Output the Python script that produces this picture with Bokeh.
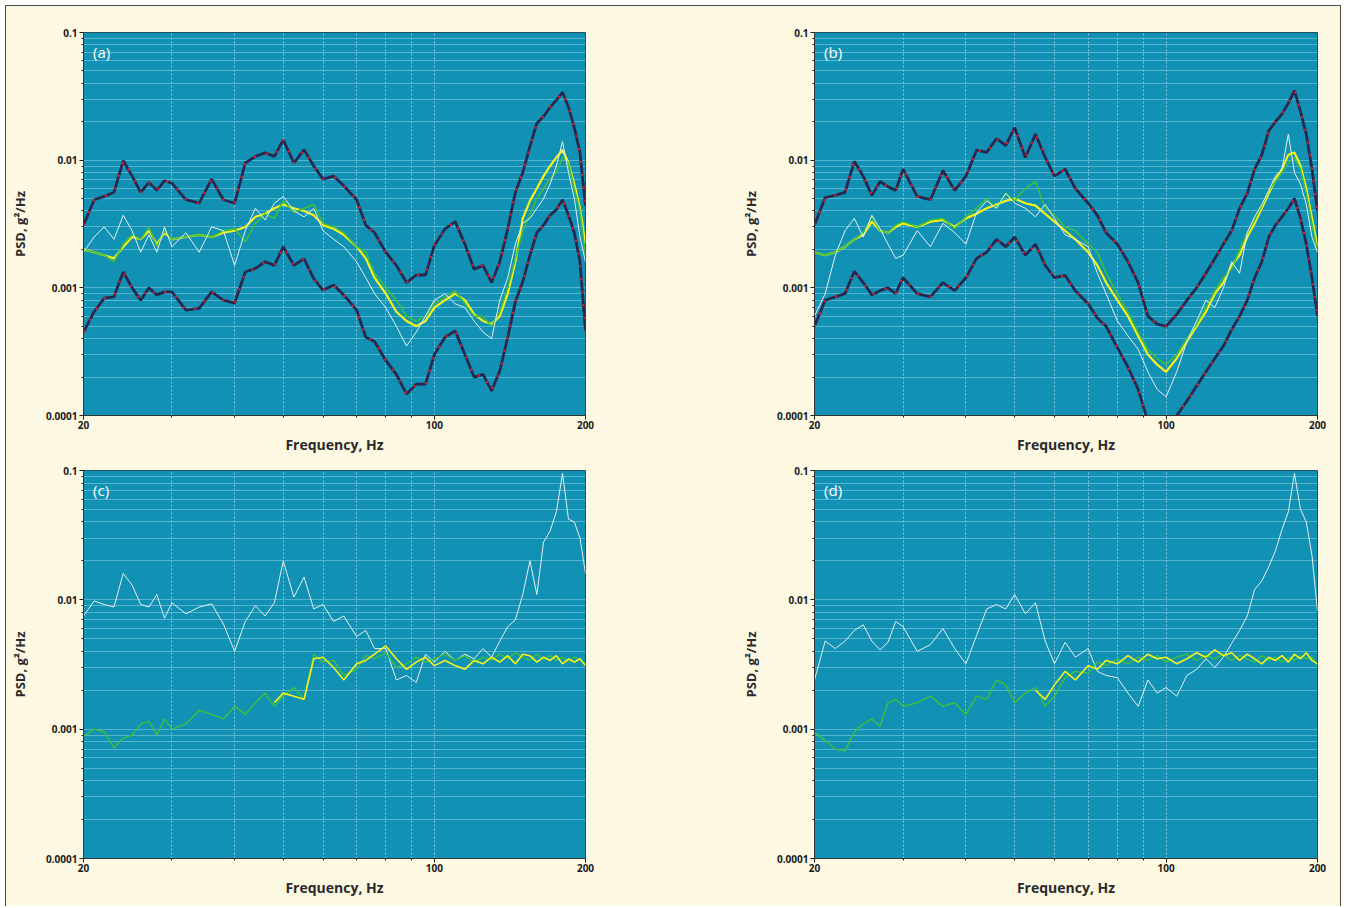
from bokeh.plotting import figure
from bokeh.layouts import row, column
from bokeh.models import Range1d, FixedTicker, Label
from bokeh.embed import file_html
from bokeh.resources import INLINE

# ---------------- data ----------------
freq = [20, 21, 22, 23, 24, 25, 26, 27, 28, 29, 30,
        32, 34, 36, 38, 40,
        42, 44, 46, 48, 50,
        52.5, 55, 57.5, 60,
        63, 66, 70, 73, 76, 80,
        84, 88, 92, 96, 100,
        105, 110, 115, 120, 125, 130, 135, 140, 145, 150,
        155, 160, 165, 170, 175, 180, 185, 190, 195, 200]

# panel (a)
a_upper = [0.0031, 0.0049, 0.0052, 0.0056, 0.0099, 0.0075, 0.0056, 0.0067, 0.0058, 0.0069, 0.0066,
           0.0049, 0.0046, 0.0071, 0.0049, 0.0046,
           0.0095, 0.0107, 0.0114, 0.0107, 0.0144,
           0.0095, 0.0121, 0.009, 0.0071,
           0.0075, 0.0063, 0.0049, 0.0031, 0.0027, 0.0019,
           0.0015, 0.0011, 0.00126, 0.00126, 0.00215,
           0.0029, 0.0033, 0.0022, 0.0014, 0.0015, 0.0011, 0.0016, 0.0029, 0.0056, 0.008,
           0.0128, 0.0195, 0.022, 0.026, 0.0295, 0.034, 0.026, 0.018, 0.0114, 0.0044]
a_lower = [0.00045, 0.00065, 0.00083, 0.00085, 0.00133, 0.001, 0.0008, 0.001, 0.00088, 0.00093, 0.00093,
           0.00067, 0.00069, 0.00093, 0.0008, 0.00076,
           0.00133, 0.00142, 0.0016, 0.0015, 0.0021,
           0.0015, 0.00169, 0.00118, 0.00096,
           0.00105, 0.00088, 0.00067, 0.00041, 0.00038, 0.00027,
           0.00021, 0.000147, 0.000176, 0.000176, 0.0003,
           0.00041, 0.00046, 0.0003, 0.0002, 0.00021, 0.000156, 0.000224, 0.00041, 0.00078, 0.00112,
           0.0018, 0.0027, 0.0031, 0.0037, 0.0041, 0.0049, 0.0037, 0.0027, 0.0016, 0.00046]
a_yellow = [0.002, 0.0019, 0.0018, 0.0017, 0.0021, 0.0025, 0.0024, 0.0028, 0.0022, 0.0027, 0.0024,
            0.0025, 0.0026, 0.0025, 0.0027, 0.0028,
            0.003, 0.0036, 0.0038, 0.0042, 0.0045,
            0.0042, 0.004, 0.0037, 0.0031,
            0.0029, 0.0026, 0.0021, 0.0017, 0.0012, 0.0009,
            0.00065, 0.00055, 0.0005, 0.00055, 0.0007,
            0.0008, 0.0009, 0.0008, 0.00062, 0.00055, 0.00052, 0.0006, 0.0009, 0.0016, 0.0035,
            0.0048, 0.006, 0.0075, 0.009, 0.0105, 0.012, 0.0095, 0.0065, 0.0042, 0.0022]
a_green = [0.002, 0.0019, 0.0018, 0.0016, 0.0022, 0.0026, 0.0024, 0.003, 0.0021, 0.0028, 0.0024,
           0.0025, 0.0026, 0.0025, 0.0028, 0.0029,
           0.0023, 0.0032, 0.0038, 0.0035, 0.0048,
           0.0039, 0.0042, 0.0045, 0.0032,
           0.003, 0.0027, 0.0021, 0.0019, 0.0013, 0.001,
           0.0008, 0.0006, 0.00055, 0.0006, 0.00075,
           0.00085, 0.00095, 0.00075, 0.0006, 0.0006, 0.0005, 0.00065, 0.001, 0.0017, 0.0028,
           0.0038, 0.005, 0.006, 0.0072, 0.008, 0.0105, 0.0095, 0.006, 0.004, 0.0018]
a_white = [0.0019, 0.0025, 0.003, 0.0024, 0.0037, 0.0028, 0.0019, 0.0026, 0.0019, 0.003, 0.0021,
           0.0027, 0.0019, 0.003, 0.0028, 0.0015,
           0.0028, 0.0042, 0.0034, 0.0046, 0.0052,
           0.004, 0.0036, 0.0042, 0.0028,
           0.0024, 0.0021, 0.0016, 0.0012, 0.0009, 0.0007,
           0.0005, 0.00035, 0.00045, 0.0006, 0.0008,
           0.0009, 0.00075, 0.0007, 0.00055, 0.00045, 0.0004, 0.0008, 0.0012, 0.0022, 0.0032,
           0.0035, 0.0042, 0.005, 0.0065, 0.009, 0.014, 0.008, 0.005, 0.0025, 0.0016]

# panel (b)
b_upper = [0.0031, 0.0051, 0.0053, 0.0056, 0.0098, 0.0075, 0.0053, 0.0068, 0.0062, 0.0058, 0.0085,
           0.0052, 0.0049, 0.0083, 0.0058, 0.0075,
           0.012, 0.0115, 0.0148, 0.013, 0.018,
           0.0105, 0.016, 0.0105, 0.0075,
           0.0085, 0.006, 0.0046, 0.0037, 0.0027, 0.0022,
           0.0016, 0.0011, 0.0006, 0.00052, 0.0005,
           0.00062, 0.0008, 0.001, 0.0013, 0.0017, 0.0022, 0.0028, 0.0042, 0.0055, 0.0085,
           0.011, 0.017, 0.02, 0.023, 0.028, 0.035, 0.024, 0.016, 0.0085, 0.004]
b_lower = [0.0005, 0.0008, 0.00085, 0.0009, 0.00135, 0.0011, 0.00088, 0.00095, 0.001, 0.0009, 0.0012,
           0.0009, 0.00085, 0.0011, 0.00095, 0.0012,
           0.0017, 0.0019, 0.0024, 0.0021, 0.0025,
           0.0018, 0.0022, 0.0015, 0.0012,
           0.00125, 0.00095, 0.00075, 0.00058, 0.0005, 0.00034,
           0.00024, 0.00016, 0.00009, 0.00008, 0.00008,
           0.0001, 0.00013, 0.00017, 0.00022, 0.00028, 0.00035, 0.00047, 0.0006, 0.0008, 0.0012,
           0.0016, 0.0025, 0.0031, 0.0036, 0.0042, 0.005, 0.0035, 0.0022, 0.0012, 0.0006]
b_yellow = [0.0019, 0.0018, 0.0019, 0.0021, 0.0024, 0.0026, 0.0033, 0.0028, 0.0027, 0.003, 0.0032,
            0.003, 0.0033, 0.0034, 0.003, 0.0035,
            0.0038, 0.0042, 0.0045, 0.0048, 0.005,
            0.0046, 0.0044, 0.0038, 0.0033,
            0.0028, 0.0024, 0.0019, 0.0015, 0.0011, 0.0008,
            0.0006, 0.00042, 0.0003, 0.00025, 0.00022,
            0.00028, 0.00038, 0.0005, 0.00065, 0.0009, 0.0011, 0.0015, 0.0018, 0.0025, 0.0032,
            0.0042, 0.0055, 0.007, 0.0085, 0.011, 0.0115, 0.009, 0.006, 0.0035, 0.0021]
b_green = [0.0019, 0.0018, 0.0019, 0.0021, 0.0024, 0.0027, 0.0036, 0.0028, 0.0027, 0.0031, 0.0033,
           0.003, 0.0034, 0.0035, 0.0029, 0.0036,
           0.0042, 0.005, 0.0042, 0.0055, 0.0048,
           0.006, 0.0068, 0.0042, 0.0037,
           0.003, 0.0028, 0.0022, 0.0019, 0.0013, 0.0009,
           0.00065, 0.00045, 0.00033, 0.00028, 0.00025,
           0.0003, 0.0004, 0.00052, 0.0007, 0.00095, 0.0012, 0.0014, 0.002, 0.0027, 0.0034,
           0.0044, 0.0058, 0.0068, 0.008, 0.0095, 0.0105, 0.0085, 0.0055, 0.0032, 0.0019]
b_white = [0.0006, 0.0009, 0.0018, 0.0028, 0.0035, 0.0025, 0.0037, 0.0029, 0.0022, 0.0017, 0.0018,
           0.0028, 0.0021, 0.0032, 0.0027, 0.0022,
           0.0039, 0.0048, 0.0042, 0.0055, 0.0046,
           0.0042, 0.0036, 0.0045, 0.0035,
           0.0026, 0.0024, 0.0021, 0.0013, 0.0009, 0.00055,
           0.00042, 0.00033, 0.00022, 0.00016, 0.00014,
           0.00022, 0.00038, 0.00055, 0.0008, 0.0007, 0.001, 0.0016, 0.0013, 0.0027, 0.0036,
           0.0045, 0.0058, 0.0075, 0.0085, 0.016, 0.008, 0.0065, 0.0045, 0.0025, 0.0019]

# panel (c)
c_white = [0.0075, 0.0098, 0.0092, 0.0088, 0.016, 0.013, 0.0092, 0.0088, 0.011, 0.0072, 0.0095,
           0.0078, 0.0088, 0.0093, 0.0065, 0.004,
           0.0068, 0.009, 0.0075, 0.0095, 0.02,
           0.0105, 0.015, 0.0085, 0.0092,
           0.0068, 0.0075, 0.0052, 0.0058, 0.0042, 0.0042,
           0.0024, 0.0026, 0.0023, 0.0038, 0.0033,
           0.004, 0.0034, 0.0038, 0.0035, 0.0042, 0.0036, 0.0048, 0.0062, 0.007, 0.011,
           0.02, 0.011, 0.028, 0.034, 0.048, 0.095, 0.042, 0.04, 0.03, 0.016]
c_green = [0.00088, 0.001, 0.00095, 0.00072, 0.00085, 0.0009, 0.0011, 0.00115, 0.0009, 0.0012, 0.001,
           0.0011, 0.0014, 0.0013, 0.0012, 0.0015,
           0.0013, 0.0016, 0.0019, 0.0015, 0.0018,
           0.0021, 0.0017, 0.0038, 0.0033,
           0.0034, 0.0026, 0.0029, 0.0037, 0.0035, 0.0039,
           0.003, 0.0032, 0.0036, 0.0033, 0.0035,
           0.0038, 0.0034, 0.0037, 0.0033, 0.0036, 0.0034, 0.0038, 0.0035, 0.0039, 0.0036,
           0.0034, 0.0038, 0.0035, 0.0037, 0.0034, 0.0036, 0.0033, 0.0036, 0.0034, 0.0032]
c_yellow_freq = freq[19:]
c_yellow = [0.0016, 0.0019, 0.0018, 0.0017, 0.0035, 0.0036, 0.003, 0.0024, 0.0032, 0.0034, 0.0038, 0.0044,
            0.0035, 0.0029, 0.0033, 0.0036, 0.0031,
            0.0034, 0.0031, 0.0029, 0.0034, 0.0032, 0.0036, 0.0033, 0.0037, 0.0032, 0.0038,
            0.0037, 0.0033, 0.0036, 0.0034, 0.0037, 0.0032, 0.0035, 0.0033, 0.0035, 0.0031]

# panel (d)
d_white = [0.0024, 0.0048, 0.0042, 0.0048, 0.0058, 0.0064, 0.0048, 0.0041, 0.0047, 0.0068, 0.0062,
           0.004, 0.0045, 0.006, 0.0042, 0.0032,
           0.0053, 0.0085, 0.0092, 0.0085, 0.011,
           0.0078, 0.0095, 0.0048, 0.0032,
           0.0047, 0.0036, 0.0042, 0.0028, 0.0026, 0.0025,
           0.0019, 0.0015, 0.0024, 0.0019, 0.0021,
           0.0018, 0.0026, 0.0029, 0.0035, 0.003, 0.0036, 0.0046, 0.0058, 0.0075, 0.012,
           0.014, 0.018, 0.024, 0.035, 0.048, 0.095, 0.05, 0.04, 0.022, 0.0082]
d_green = [0.00094, 0.00082, 0.0007, 0.00068, 0.00095, 0.0011, 0.0012, 0.00105, 0.0016, 0.0017, 0.0015,
           0.0016, 0.0018, 0.0015, 0.0016, 0.0013,
           0.0018, 0.0017, 0.0024, 0.0022, 0.0016,
           0.0019, 0.0021, 0.0015, 0.0018,
           0.0025, 0.0028, 0.0027, 0.0033, 0.0031, 0.0035,
           0.0032, 0.0036, 0.0034, 0.0037, 0.0033,
           0.0036, 0.0038, 0.0034, 0.0037, 0.0035, 0.0038, 0.0034, 0.0037, 0.0035, 0.0033,
           0.0037, 0.0034, 0.0036, 0.0033, 0.0036, 0.0034, 0.0037, 0.0035, 0.0036, 0.0031]
d_yellow_freq = freq[22:]
d_yellow = [0.002, 0.0017, 0.0022,
            0.0028, 0.0024, 0.0031, 0.0029, 0.0034, 0.0032,
            0.0037, 0.0033, 0.0038, 0.0035, 0.0036,
            0.0032, 0.0035, 0.0039, 0.0036, 0.0041, 0.0037, 0.0039, 0.0034, 0.0038, 0.0035,
            0.0032, 0.0036, 0.0034, 0.0037, 0.0033, 0.0038, 0.0035, 0.0039, 0.0034, 0.0032]

x_ticks = [20, 100, 200]
x_minor = [30, 40, 50, 60, 70, 80, 90]
y_ticks = [0.0001, 0.001, 0.01, 0.1]
y_labels = ["0.0001", "0.001", "0.01", "0.1"]
y_minor = [m * d for d in (0.0001, 0.001, 0.01) for m in range(2, 10)]

# ---------------- style ----------------
CREAM = "#fcf8e2"
TEAL = "#1192b4"
DARK = "#262850"
RED = "#f01e26"
YELLOW = "#f6f21a"
GREEN = "#3fbf3a"
WHITE = "#e6eef2"
FONT = "Open Sans"


def make_panel(tag, w, h, left, right, top, bottom):
    p = figure(width=w, height=h, x_axis_type="log", y_axis_type="log",
               x_range=Range1d(20, 200), y_range=Range1d(0.0001, 0.1),
               output_backend="svg", toolbar_location=None,
               background_fill_color=TEAL, border_fill_color=CREAM,
               min_border_left=left, min_border_right=right,
               min_border_top=top, min_border_bottom=bottom,
               outline_line_color="#24505e", outline_line_width=1)
    p.xaxis.ticker = FixedTicker(ticks=x_ticks, minor_ticks=x_minor)
    p.yaxis.ticker = FixedTicker(ticks=y_ticks, minor_ticks=y_minor)
    p.xaxis.major_label_overrides = {t: str(t) for t in x_ticks}
    p.yaxis.major_label_overrides = dict(zip(y_ticks, y_labels))
    for ax in (p.xaxis[0], p.yaxis[0]):
        ax.axis_line_color = "#333333"
        ax.major_tick_line_color = "#222222"
        ax.minor_tick_line_color = "#222222"
        ax.major_tick_out = 4
        ax.major_tick_in = 0
        ax.minor_tick_out = 2
        ax.minor_tick_in = 0
        ax.major_label_text_font = FONT
        ax.major_label_text_font_style = "bold"
        ax.major_label_text_font_size = "10px"
        ax.major_label_text_color = "#1a1a1a"
        ax.axis_label_text_font = FONT
        ax.axis_label_text_font_style = "bold"
        ax.axis_label_text_color = "#2a2a2a"
    p.xaxis.axis_label = "Frequency, Hz"
    p.xaxis.axis_label_text_font_size = "14px"
    p.xaxis.major_label_standoff = 1
    p.xaxis.axis_label_standoff = 3
    p.yaxis.axis_label = "PSD, g\u00b2/Hz"
    p.yaxis.axis_label_text_font_size = "13px"
    p.yaxis.major_label_standoff = 2
    p.yaxis.axis_label_standoff = 14

    p.xgrid.grid_line_color = "#9fd6e6"
    p.xgrid.grid_line_dash = "2 2"
    p.xgrid.grid_line_alpha = 0.8
    p.xgrid.minor_grid_line_color = "#9fd6e6"
    p.xgrid.minor_grid_line_dash = "2 2"
    p.xgrid.minor_grid_line_alpha = 0.8
    p.ygrid.grid_line_color = "#5fb8d2"
    p.ygrid.minor_grid_line_color = "#5fb8d2"
    p.ygrid.grid_line_alpha = 0.9
    p.ygrid.minor_grid_line_alpha = 0.9

    p.add_layout(Label(x=20.9, y=0.084, text=tag, text_color="white",
                       text_font=FONT, text_font_size="15px", text_baseline="top"))
    return p


def bounds(p, vals):
    p.line(freq, vals, line_color=DARK, line_width=2.8)
    p.line(freq, vals, line_color=RED, line_width=2, line_dash="2 11")


# (a)
pa = make_panel("(a)", 667, 450, 77, 88, 26, 37)
bounds(pa, a_upper)
bounds(pa, a_lower)
pa.line(freq, a_yellow, line_color=YELLOW, line_width=2.2)
pa.line(freq, a_green, line_color=GREEN, line_width=1.5)
pa.line(freq, a_white, line_color=WHITE, line_width=1)

# (b)
pb = make_panel("(b)", 667, 450, 141, 23, 26, 37)
bounds(pb, b_upper)
bounds(pb, b_lower)
pb.line(freq, b_yellow, line_color=YELLOW, line_width=2.2)
pb.line(freq, b_green, line_color=GREEN, line_width=1.5)
pb.line(freq, b_white, line_color=WHITE, line_width=1)

# (c)
pc = make_panel("(c)", 667, 450, 77, 88, 14, 48)
pc.line(freq, c_white, line_color=WHITE, line_width=1)
pc.line(freq, c_green, line_color=GREEN, line_width=1.4)
pc.line(c_yellow_freq, c_yellow, line_color=YELLOW, line_width=1.6)

# (d)
pd = make_panel("(d)", 667, 450, 141, 23, 14, 48)
pd.line(freq, d_white, line_color=WHITE, line_width=1)
pd.line(freq, d_green, line_color=GREEN, line_width=1.4)
pd.line(d_yellow_freq, d_yellow, line_color=YELLOW, line_width=1.6)

layout = column(row(pa, pb), row(pc, pd),
                styles={"margin": "5px 0 0 5px", "border": "1px solid #4a4a4a",
                        "border-bottom": "none", "background-color": CREAM})

open("out.html", "w").write(file_html(layout, INLINE))
